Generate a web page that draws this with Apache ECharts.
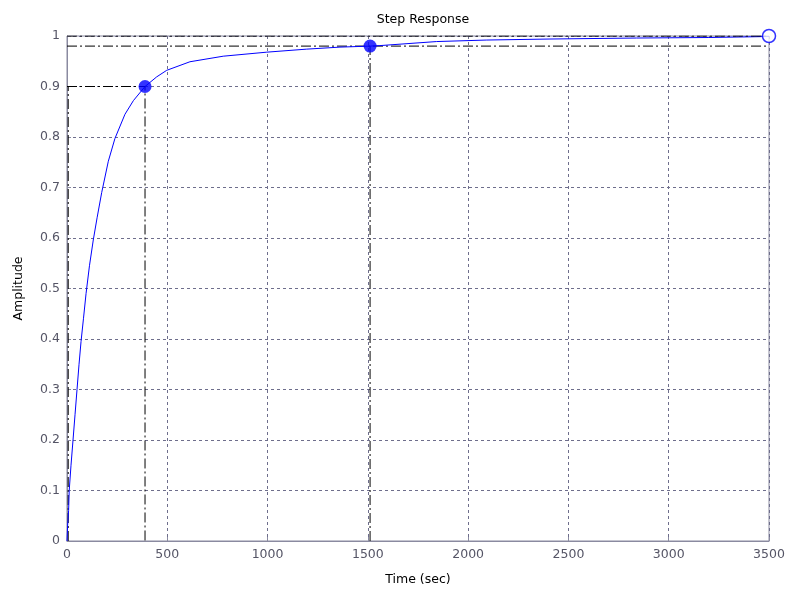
<!DOCTYPE html>
<html>
<head>
<meta charset="utf-8">
<script src="https://cdn.jsdelivr.net/npm/echarts@6/dist/echarts.min.js"></script>
<style>
html,body{margin:0;padding:0;background:#fff;}
#c{width:788px;height:595px;}
</style>
</head>
<body>
<div id="c"></div>
<script>
// Data
const timeSec = [0, 3, 8, 11, 20, 30, 40, 50, 60, 70, 82, 95, 112, 131, 150, 173, 206, 239, 289, 331, 389, 447, 497, 613, 779, 996, 1195, 1361, 1511, 1560, 1843, 2093, 2408, 2840, 3200, 3500];
const amplitude = [0, 0.03, 0.06, 0.10, 0.15, 0.20, 0.25, 0.30, 0.35, 0.395, 0.44, 0.49, 0.545, 0.596, 0.64, 0.69, 0.752, 0.797, 0.845, 0.872, 0.90, 0.919, 0.932, 0.949, 0.960, 0.968, 0.974, 0.978, 0.980, 0.981, 0.989, 0.992, 0.994, 0.996, 0.997, 0.999];
const riseStart = [6, 0.1];
const riseEnd = [389, 0.9];
const settling = [1511, 0.98];
const finalValue = [3500, 1.0];
const xTicks = [0, 500, 1000, 1500, 2000, 2500, 3000, 3500];
const yTicks = [0, 0.1, 0.2, 0.3, 0.4, 0.5, 0.6, 0.7, 0.8, 0.9, 1];

const chart = echarts.init(document.getElementById('c'));
const curve = timeSec.map((t, i) => [t, amplitude[i]]);
const dashDot = {color: '#000', width: 1, type: [10, 3, 2, 3]};
const font = 'DejaVu Sans, Verdana, sans-serif';
const xMax = xTicks[xTicks.length - 1];

chart.setOption({
  animation: false,
  backgroundColor: '#fff',
  title: {
    text: 'Step Response', left: 418, top: 8, textAlign: 'center',
    textStyle: {fontFamily: font, fontSize: 12.5, fontWeight: 'normal', color: '#000'}
  },
  grid: {left: 67, right: 19, top: 36, bottom: 54, show: true, borderColor: '#8a8aa0', borderWidth: 1, backgroundColor: '#fff'},
  xAxis: {
    type: 'value', min: xTicks[0], max: xMax, interval: 500,
    name: 'Time (sec)', nameLocation: 'middle', nameGap: 32,
    nameTextStyle: {fontFamily: font, fontSize: 12.5, color: '#000'},
    axisLine: {lineStyle: {color: '#8a8aa0'}},
    axisTick: {inside: true, length: 4, lineStyle: {color: '#8a8aa0'}},
    axisLabel: {fontFamily: font, fontSize: 12.5, color: '#555566', margin: 7, formatter: v => String(v)},
    splitLine: {show: true, lineStyle: {color: '#6e6e8c', type: [3, 3], width: 1}}
  },
  yAxis: {
    type: 'value', min: yTicks[0], max: yTicks[yTicks.length - 1], interval: 0.1,
    name: 'Amplitude', nameLocation: 'middle', nameGap: 42, nameRotate: 90,
    nameTextStyle: {fontFamily: font, fontSize: 12.5, color: '#000'},
    axisLine: {show: true, lineStyle: {color: '#8a8aa0'}},
    axisTick: {show: true, inside: true, length: 4, lineStyle: {color: '#8a8aa0'}},
    axisLabel: {fontFamily: font, fontSize: 12.5, color: '#555566', margin: 7, formatter: v => String(Math.round(v * 10) / 10)},
    splitLine: {show: true, lineStyle: {color: '#6e6e8c', type: [3, 3], width: 1}}
  },
  series: [
    {type: 'line', data: [[riseStart[0], 0], [riseStart[0], riseEnd[1]]], showSymbol: false, lineStyle: dashDot, z: 3},
    {type: 'line', data: [[0, riseEnd[1]], [riseEnd[0], riseEnd[1]], [riseEnd[0], 0]], showSymbol: false, lineStyle: dashDot, z: 3},
    {type: 'line', data: [[0, settling[1]], [xMax, settling[1]]], showSymbol: false, lineStyle: dashDot, z: 3},
    {type: 'line', data: [[settling[0], 0], [settling[0], settling[1]]], showSymbol: false, lineStyle: dashDot, z: 3},
    {type: 'line', data: curve, showSymbol: false, lineStyle: {color: '#0000ff', width: 1}, z: 4},
    {type: 'line', data: [[0, finalValue[1]], [xMax, finalValue[1]]], showSymbol: false, lineStyle: dashDot, z: 5},
    {type: 'scatter', data: [riseEnd, settling], symbol: 'circle', symbolSize: 13, itemStyle: {color: '#0000ff'}, z: 6},
    {type: 'scatter', data: [finalValue], symbol: 'circle', symbolSize: 13, itemStyle: {color: '#fff', borderColor: '#0000ff', borderWidth: 1.5}, z: 6}
  ]
});
</script>
</body>
</html>
